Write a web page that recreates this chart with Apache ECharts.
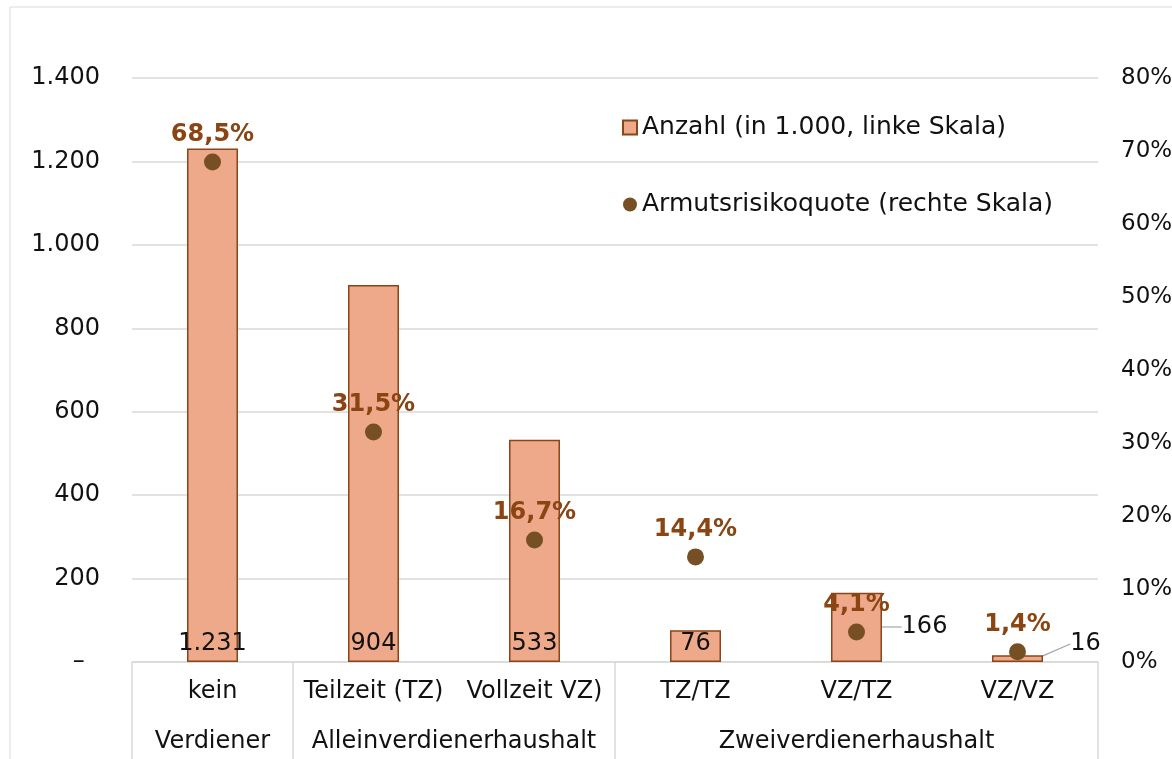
<!DOCTYPE html>
<html>
<head>
<meta charset="utf-8">
<script src="https://cdn.jsdelivr.net/npm/echarts@6/dist/echarts.min.js"></script>
<style>
  html, body { margin: 0; padding: 0; background: #fff; }
  #chart { width: 1172px; height: 759px; }
</style>
</head>
<body>
<div id="chart"></div>
<script>
// Kategorien (erste Ebene) und Gruppen (zweite Ebene)
const categories = ['kein', 'Teilzeit (TZ)', 'Vollzeit VZ)', 'TZ/TZ', 'VZ/TZ', 'VZ/VZ']
const groupLabels = ['Verdiener', 'Alleinverdienerhaushalt', 'Zweiverdienerhaushalt']
const groupCenters = [0.5, 2, 4.5]
const groupBounds = [0, 1, 3, 6]

// Anzahl in 1.000 (linke Skala)
const anzahl = [1231, 904, 533, 76, 166, 16]
// Armutsrisikoquote (rechte Skala)
const quote = [0.685, 0.315, 0.167, 0.144, 0.041, 0.014]

const FONT = 'DejaVu Sans'
const GRID = '#d9d9d9'

const fmtThousand = (v) => String(v).replace(/\B(?=(\d{3})+(?!\d))/g, '.')

const chart = echarts.init(document.getElementById('chart'))

const option = {
  backgroundColor: '#fff',
  textStyle: { fontFamily: FONT },
  animation: false,
  graphic: [{
    type: 'rect',
    shape: { x: 10, y: 7, width: 1180, height: 780 },
    style: { fill: 'none', stroke: GRID, lineWidth: 1 },
    silent: true
  }],
  legend: {
    orient: 'vertical',
    left: 617,
    top: 110,
    itemWidth: 14,
    itemHeight: 14,
    itemGap: 52,
    textStyle: { fontFamily: FONT, fontSize: 25, color: '#111' },
    data: [
      { name: 'Anzahl (in 1.000, linke Skala)', icon: 'rect' },
      { name: 'Armutsrisikoquote (rechte Skala)', icon: 'circle' }
    ]
  },
  grid: { left: 132, right: 74, top: 78, bottom: 97, outerBoundsMode: 'none', containLabel: false },
  xAxis: [{
    type: 'category',
    data: categories,
    position: 'bottom',
    axisLine: { lineStyle: { color: GRID, width: 1.5 } },
    axisTick: { show: false },
    axisLabel: { fontFamily: FONT, fontSize: 24, color: '#111', margin: 18, interval: 0 }
  }, {
    type: 'value',
    min: 0,
    max: 6,
    position: 'bottom',
    axisLine: { show: false },
    splitLine: { show: false },
    axisTick: {
      show: true,
      customValues: groupBounds,
      length: 100,
      lineStyle: { color: GRID, width: 1.5 }
    },
    axisLabel: {
      customValues: groupCenters,
      fontFamily: FONT,
      fontSize: 24,
      color: '#111',
      margin: 68,
      formatter: (v) => {
        const i = groupCenters.indexOf(v)
        return i >= 0 ? groupLabels[i] : ''
      }
    }
  }],
  yAxis: [{
    type: 'value',
    min: 0,
    max: 1400,
    interval: 200,
    axisLine: { show: false },
    axisTick: { show: false },
    splitLine: { lineStyle: { color: GRID, width: 1.5 } },
    axisLabel: {
      fontFamily: FONT,
      fontSize: 24,
      color: '#111',
      margin: 32,
      formatter: (v) => v === 0 ? '–  ' : fmtThousand(v)
    }
  }, {
    type: 'value',
    min: 0,
    max: 0.8,
    interval: 0.1,
    axisLine: { show: false },
    axisTick: { show: false },
    splitLine: { show: false },
    axisLabel: {
      fontFamily: FONT,
      fontSize: 23,
      color: '#111',
      margin: 23,
      formatter: (v) => Math.round(v * 100) + '%'
    }
  }],
  series: [{
    name: 'Anzahl (in 1.000, linke Skala)',
    type: 'bar',
    xAxisIndex: 0,
    yAxisIndex: 0,
    barWidth: 51,
    z: 2,
    itemStyle: { color: '#EDA98A', borderColor: '#8A4519', borderWidth: 1.5 },
    label: {
      show: true,
      position: 'insideBottom',
      distance: 6,
      fontFamily: FONT,
      fontSize: 24,
      color: '#111',
      formatter: (p) => fmtThousand(p.value)
    },
    labelLine: { show: true, lineStyle: { color: '#a6a6a6', width: 1.2 } },
    labelLayout: (p) => {
      // die beiden kleinen Balken: Beschriftung rechts daneben mit Linie
      if (p.dataIndex === 4) return { dx: 68, dy: -17 }
      if (p.dataIndex === 5) return { dx: 68, dy: 0 }
      return {}
    },
    data: anzahl
  }, {
    name: 'Armutsrisikoquote (rechte Skala)',
    type: 'scatter',
    xAxisIndex: 0,
    yAxisIndex: 1,
    symbolSize: 17,
    z: 3,
    itemStyle: { color: '#765024', opacity: 1 },
    label: {
      show: true,
      position: 'top',
      distance: 7,
      fontFamily: FONT,
      fontSize: 24,
      fontWeight: 'bold',
      color: '#8B4513',
      opacity: 1,
      formatter: (p) => (p.value * 100).toFixed(1).replace('.', ',') + '%'
    },
    data: quote
  }]
}

chart.setOption(option)
</script>
</body>
</html>
